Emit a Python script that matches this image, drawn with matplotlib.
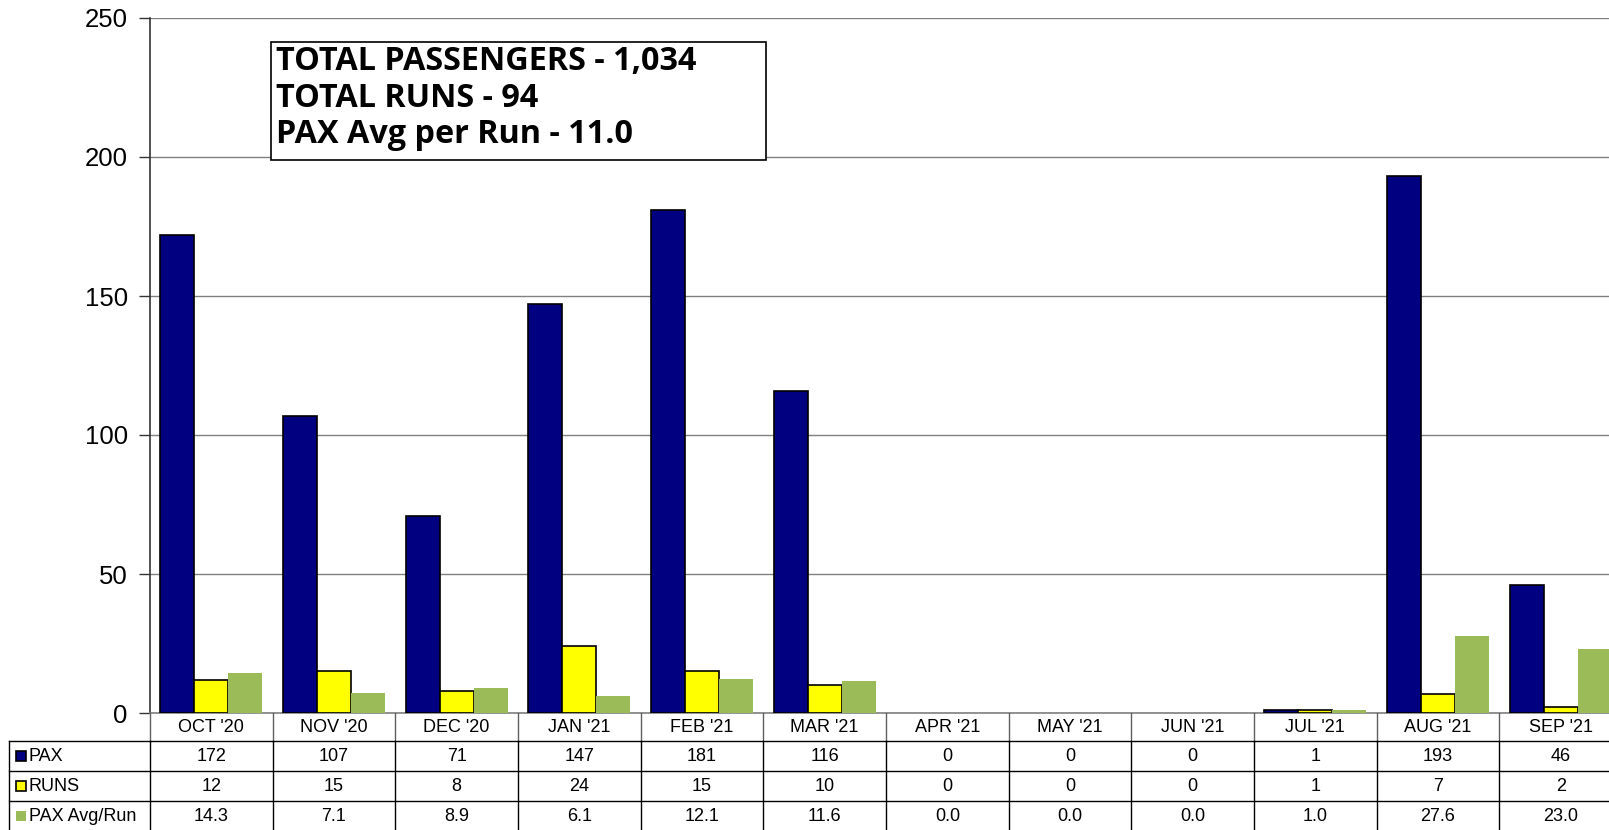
import numpy as np
import matplotlib
matplotlib.use('Agg')
import matplotlib.pyplot as plt
from matplotlib import transforms
from matplotlib.lines import Line2D
from matplotlib.patches import Rectangle

months = ["OCT '20", "NOV '20", "DEC '20", "JAN '21", "FEB '21", "MAR '21",
          "APR '21", "MAY '21", "JUN '21", "JUL '21", "AUG '21", "SEP '21"]
pax = [172, 107, 71, 147, 181, 116, 0, 0, 0, 1, 193, 46]
runs = [12, 15, 8, 24, 15, 10, 0, 0, 0, 1, 7, 2]
avg = [14.3, 7.1, 8.9, 6.1, 12.1, 11.6, 0.0, 0.0, 0.0, 1.0, 27.6, 23.0]
series_names = ['PAX', 'RUNS', 'PAX Avg/Run']
summary_lines = ['TOTAL PASSENGERS - 1,034', 'TOTAL RUNS - 94', 'PAX Avg per Run - 11.0']
yticks = [0, 50, 100, 150, 200, 250]

plt.rcParams['font.family'] = ['Liberation Sans', 'DejaVu Sans']

W, H = 1609, 830
fig = plt.figure(figsize=(W / 100, H / 100), dpi=100)

def fx(px):
    return px / W

def fy(py):
    return 1 - py / H

ax = fig.add_axes([fx(150), fy(713), 1472 / W, (713 - 18) / H])
x = np.arange(len(months))
bw = 0.277
navy, yellow, green = '#000080', '#FFFF00', '#9BBB59'
ax.bar(x - bw, pax, bw, color=navy,
       edgecolor=['black' if v > 0 else 'none' for v in pax], linewidth=1.2, zorder=3)
ax.bar(x, runs, bw, color=yellow,
       edgecolor=['black' if v > 0 else 'none' for v in runs], linewidth=1.2, zorder=3)
ax.bar(x + bw, avg, bw, color=green, linewidth=0, zorder=3)
ax.set_xlim(-0.5, len(months) - 0.5)
ax.set_ylim(0, 250)
ax.set_yticks(yticks)
ax.yaxis.grid(True, color='#808080', linewidth=1.0)
ax.set_axisbelow(True)
ax.set_xticks([])
for s in ['top', 'right']:
    ax.spines[s].set_visible(False)
ax.spines['left'].set_color('#333333')
ax.spines['left'].set_linewidth(1.2)
ax.spines['bottom'].set_color('#808080')
ax.spines['bottom'].set_linewidth(1.2)
ax.tick_params(axis='y', length=8, width=1.0, color='#333333', labelsize=18.5, pad=8)

# data table
bt = transforms.blended_transform_factory(ax.transData, fig.transFigure)
ft = fig.transFigure
for i in range(len(months) + 1):
    xb = i - 0.5
    fig.add_artist(Line2D([xb, xb], [fy(713), fy(741)], transform=bt, color='#606060', lw=1.0))
    fig.add_artist(Line2D([xb, xb], [fy(741), fy(831)], transform=bt, color='black', lw=1.0))
fig.add_artist(Line2D([fx(9), fx(9)], [fy(741), fy(831)], transform=ft, color='black', lw=1.0))
for yy in [741, 771, 801]:
    fig.add_artist(Line2D([fx(9), 1.0], [fy(yy), fy(yy)], transform=ft, color='black', lw=1.0))

for i, m in enumerate(months):
    fig.text(i, fy(727), m, transform=bt, ha='center', va='center', fontsize=13)
rows = [[str(v) for v in pax], [str(v) for v in runs], ['{:.1f}'.format(v) for v in avg]]
centers = [756, 786, 816]
for r, cy in zip(rows, centers):
    for i, t in enumerate(r):
        fig.text(i, fy(cy), t, transform=bt, ha='center', va='center', fontsize=13)

keys = [(navy, 'black'), (yellow, 'black'), (green, 'none')]
for name, cy, (fc, ec) in zip(series_names, centers, keys):
    fig.add_artist(Rectangle((fx(16), fy(cy + 5)), 10 / W, 10 / H, transform=ft,
                             facecolor=fc, edgecolor=ec, lw=1.2))
    fig.text(fx(29), fy(cy), name, ha='left', va='center', fontsize=13)

# summary box
fig.add_artist(Rectangle((fx(271), fy(160)), (766 - 271) / W, (160 - 42) / H, transform=ft,
                         facecolor='white', edgecolor='black', lw=1.2, zorder=5))
texts = []
for line, base in zip(summary_lines, [70, 107, 143]):
    texts.append(fig.text(fx(276), fy(base), line, ha='left', va='baseline', fontsize=18,
                          fontweight='bold', family=['Open Sans', 'DejaVu Sans'], zorder=6))
# fit first line width to the box text width (~421 px)
renderer = fig.canvas.get_renderer()
w0 = texts[0].get_window_extent(renderer).width
fs = 18 * 421 / w0
for t in texts:
    t.set_fontsize(fs)

fig.savefig('out.png', dpi=100)
